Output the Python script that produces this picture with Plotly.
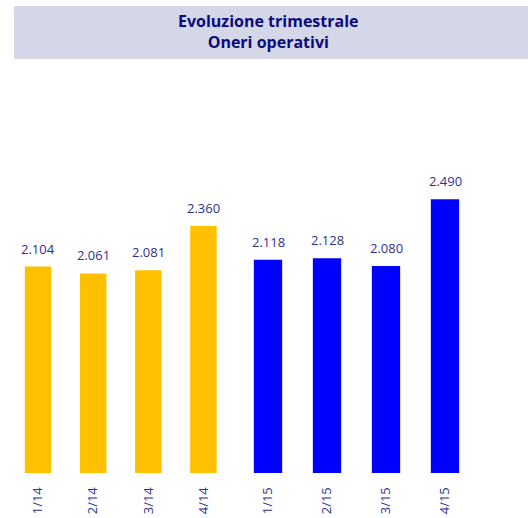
import plotly.graph_objects as go

# Quarterly operating costs (values in thousands, Italian decimal style)
quarters_2014 = ["1/14", "2/14", "3/14", "4/14"]
values_2014 = [2.104, 2.061, 2.081, 2.360]
quarters_2015 = ["1/15", "2/15", "3/15", "4/15"]
values_2015 = [2.118, 2.128, 2.080, 2.490]

title_lines = ["Evoluzione trimestrale", "Oneri operativi"]

FONT = "Open Sans"
LABEL_COLOR = "#2E3192"
TITLE_COLOR = "#0A0A7E"
YELLOW = "#FFC000"
BLUE = "#0000FF"


def fmt(v):
    return f"{v:.3f}"


fig = go.Figure()

fig.add_trace(go.Bar(
    x=quarters_2014, y=values_2014, marker=dict(color=YELLOW, line=dict(width=0)),
    xaxis="x", yaxis="y", hoverinfo="x+y",
))
fig.add_trace(go.Bar(
    x=quarters_2015, y=values_2015, marker=dict(color=BLUE, line=dict(width=0)),
    xaxis="x2", yaxis="y2", hoverinfo="x+y",
))

# value labels above each bar
for xs, ys, xr, yr in [(quarters_2014, values_2014, "x", "y"),
                       (quarters_2015, values_2015, "x2", "y2")]:
    for q, v in zip(xs, ys):
        fig.add_annotation(
            x=q, y=v, xref=xr, yref=yr, text=fmt(v), showarrow=False,
            yanchor="bottom", yshift=7,
            font=dict(family=FONT, size=13, color=LABEL_COLOR),
        )

# title banner
fig.add_shape(type="rect", xref="paper", yref="paper",
              x0=14 / 528, x1=1.0, y0=1 + 1 / 413, y1=1 + 54 / 413,
              fillcolor="#D3D7E8", line=dict(width=0), layer="below")
fig.add_annotation(
    xref="paper", yref="paper", x=268 / 528, y=1 + 28 / 413,
    text="<br>".join(title_lines), showarrow=False, align="center",
    font=dict(family=FONT, size=16, color=TITLE_COLOR, weight="bold"),
    xanchor="center", yanchor="middle",
)

# invisible ticks keep the rotated labels a little below the bars
axis_common = dict(
    type="category", tickangle=-90, showgrid=False, zeroline=False,
    showline=False, ticks="outside", ticklen=8, tickcolor="rgba(0,0,0,0)",
    tickfont=dict(family=FONT, size=13, color=LABEL_COLOR),
)

fig.update_layout(
    width=528, height=518,
    margin=dict(l=0, r=0, t=60, b=45),
    paper_bgcolor="white", plot_bgcolor="white",
    showlegend=False, bargap=0.52,
    font=dict(family=FONT),
    xaxis=dict(domain=[10.5 / 528, 231 / 528], anchor="y", **axis_common),
    xaxis2=dict(domain=[238.5 / 528, 474.5 / 528], anchor="y2", **axis_common),
    yaxis=dict(range=[0.799, 3.41], visible=False),
    yaxis2=dict(range=[0.807, 3.347], visible=False, anchor="x2"),
)

fig.write_html("out.html")
